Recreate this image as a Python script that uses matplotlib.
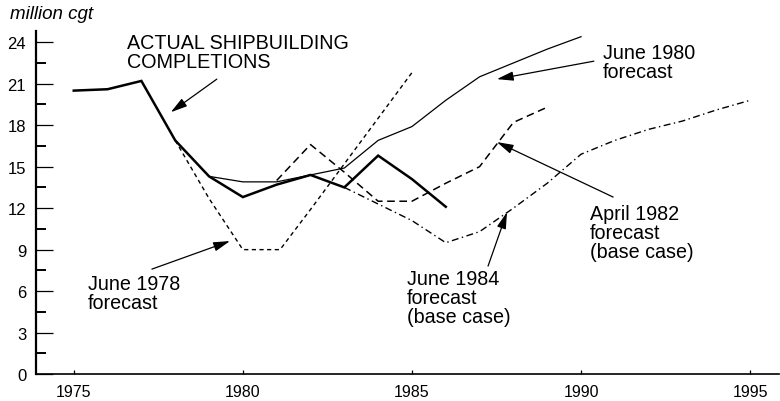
import matplotlib
matplotlib.use("Agg")
import matplotlib.pyplot as plt

plt.rcParams['font.family'] = ['Liberation Sans', 'DejaVu Sans']

# actual completions and the four forecasts (million cgt)
actual_years = [1975, 1976, 1977, 1978, 1979, 1980, 1981, 1982, 1983, 1984, 1985, 1986]
actual_vals = [20.5, 20.6, 21.2, 16.9, 14.3, 12.8, 13.7, 14.4, 13.5, 15.8, 14.1, 12.1]

jun78_years = [1978, 1979, 1980, 1981.1, 1982, 1983, 1984, 1985]
jun78_vals = [16.9, 12.7, 9.0, 9.0, 11.9, 15.2, 18.5, 21.8]

jun80_years = [1979, 1980, 1981, 1982, 1983, 1984, 1985, 1986, 1987, 1988, 1989, 1990]
jun80_vals = [14.3, 13.9, 13.9, 14.4, 14.9, 16.9, 17.9, 19.8, 21.5, 22.5, 23.5, 24.4]

apr82_years = [1981, 1982, 1983, 1984, 1985, 1986, 1987, 1988, 1989]
apr82_vals = [14.0, 16.6, 14.6, 12.5, 12.5, 13.8, 15.0, 18.2, 19.3]

jun84_years = [1983, 1984, 1985, 1986, 1987, 1988, 1989, 1990, 1991, 1992, 1993, 1994, 1995]
jun84_vals = [13.5, 12.3, 11.1, 9.5, 10.3, 12.0, 13.8, 15.9, 16.9, 17.7, 18.3, 19.1, 19.8]

year_ticks = [1975, 1980, 1985, 1990, 1995]
val_ticks = [0, 3, 6, 9, 12, 15, 18, 21, 24]

fig = plt.figure(figsize=(7.8, 4.02), dpi=100)
ax = fig.add_axes([0.046, 0.067, 0.953, 0.853])

ax.plot(actual_years, actual_vals, color='black', lw=1.8, solid_joinstyle='miter')
ax.plot(jun80_years, jun80_vals, color='black', lw=0.9)
ax.plot(jun78_years, jun78_vals, color='black', lw=1.0, dashes=(3, 2.5))
ax.plot(apr82_years, apr82_vals, color='black', lw=1.1, dashes=(5, 3))
ax.plot(jun84_years, jun84_vals, color='black', lw=1.0, dashes=(5, 2.5, 1, 2.5))

ax.set_xlim(1973.88, 1995.86)
ax.set_ylim(0, 24.8)

for s in ['top', 'right']:
    ax.spines[s].set_visible(False)
ax.spines['left'].set_linewidth(1.6)
ax.spines['bottom'].set_linewidth(1.2)

ax.set_xticks(year_ticks)
ax.set_xticklabels([str(y) for y in year_ticks])
ax.set_yticks(val_ticks)
ax.set_yticklabels([str(v) for v in val_ticks])
ax.set_yticks([v + 1.5 for v in val_ticks[:-1]], minor=True)
ax.tick_params(axis='y', which='major', direction='in', length=12, width=0.9,
               labelsize=12, pad=7)
ax.tick_params(axis='y', which='minor', direction='in', length=7, width=1.4)
ax.tick_params(axis='x', which='major', direction='in', length=3, width=0.9,
               labelsize=11.5, pad=7.5)

fig.text(0.013, 0.963, 'million cgt', fontsize=13.5, style='italic', va='center', ha='left')

arrow = dict(arrowstyle='-|>,head_length=1.0,head_width=0.28', color='black',
             lw=0.9, mutation_scale=10, shrinkA=0, shrinkB=0)
tfs = 14.2

ax.text(1976.57, 24.65, 'ACTUAL SHIPBUILDING\nCOMPLETIONS', fontsize=tfs,
        ha='left', va='top', linespacing=1.0)
ax.annotate('', xy=(1977.87, 18.94), xytext=(1979.23, 21.33), arrowprops=arrow)

ax.text(1990.65, 23.95, 'June 1980\nforecast', fontsize=tfs, ha='left', va='top', linespacing=1.0)
ax.annotate('', xy=(1987.51, 21.33), xytext=(1990.38, 22.63), arrowprops=arrow)

ax.text(1975.41, 7.25, 'June 1978\nforecast', fontsize=tfs, ha='left', va='top', linespacing=1.0)
ax.annotate('', xy=(1979.62, 9.62), xytext=(1977.31, 7.59), arrowprops=arrow)

ax.text(1990.27, 12.3, 'April 1982\nforecast\n(base case)', fontsize=tfs,
        ha='left', va='top', linespacing=1.0)
ax.annotate('', xy=(1987.51, 16.78), xytext=(1990.95, 12.8), arrowprops=arrow)

ax.text(1984.85, 7.6, 'June 1984\nforecast\n(base case)', fontsize=tfs,
        ha='left', va='top', linespacing=1.0)
ax.annotate('', xy=(1987.81, 11.71), xytext=(1987.25, 7.81), arrowprops=arrow)

fig.savefig('out.png', dpi=100)
